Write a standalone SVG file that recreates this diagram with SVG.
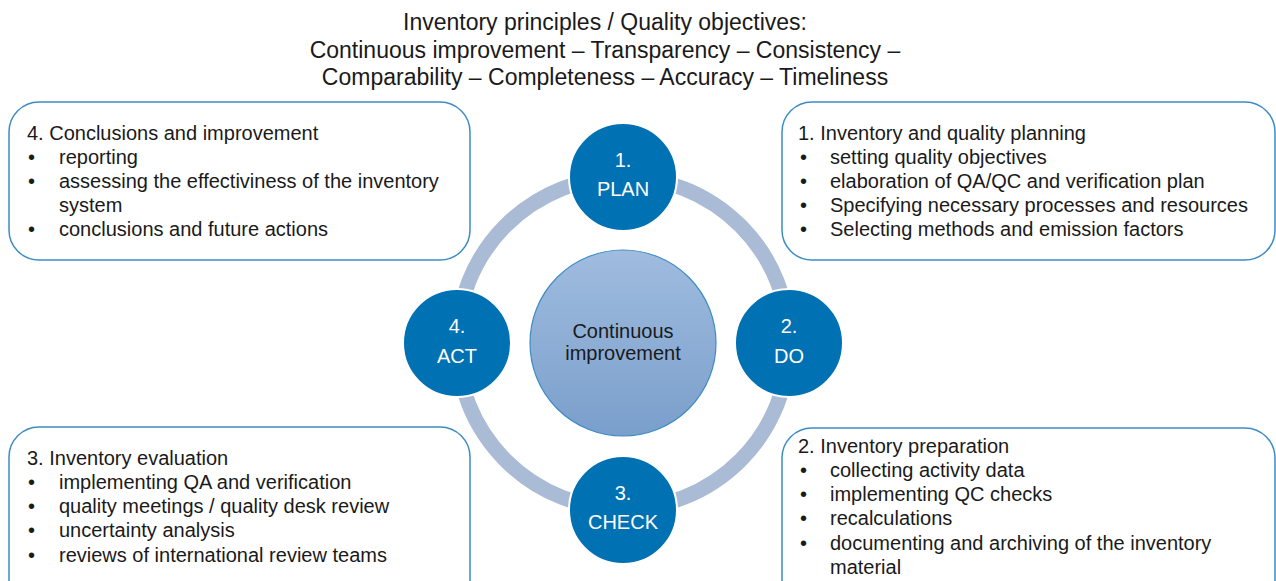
<svg xmlns="http://www.w3.org/2000/svg" width="1276" height="581" viewBox="0 0 1276 581">
<style>
text{font-family:"Liberation Sans",Arial,sans-serif;fill:#1a1a1a}
.t{font-size:23px;text-anchor:middle}
.b{font-size:20px}
.box{fill:#fff;stroke:#3d8cc4;stroke-width:1.5}
.node{fill:#0071b2;stroke:#fff;stroke-width:2}
.nl{font-size:20px;fill:#fff;text-anchor:middle}
.cl{font-size:20px;text-anchor:middle}
</style>
<defs>
<linearGradient id="g" x1="0" y1="0" x2="0" y2="1">
<stop offset="0" stop-color="#a0bcdf"/>
<stop offset="1" stop-color="#7a9fcb"/>
</linearGradient>
</defs>
<rect width="1276" height="581" fill="#fff"/>
<g id="title">
<text class="t" x="605" y="30">Inventory principles / Quality objectives:</text>
<text class="t" x="605" y="58">Continuous improvement – Transparency – Consistency –</text>
<text class="t" x="605" y="85">Comparability – Completeness – Accuracy – Timeliness</text>
</g>
<g id="connectors">
<circle cx="623" cy="343" r="166" fill="none" stroke="#a9bbd5" stroke-width="15"/>
</g>
<g id="box4">
<rect class="box" x="9" y="102" width="461" height="158" rx="30"/>
<text class="b" x="27" y="140">4. Conclusions and improvement</text>
<text class="b" x="28" y="164">•</text><text class="b" x="59" y="164">reporting</text>
<text class="b" x="28" y="188">•</text><text class="b" x="59" y="188">assessing the effectiviness of the inventory</text>
<text class="b" x="59" y="212">system</text>
<text class="b" x="28" y="236">•</text><text class="b" x="59" y="236">conclusions and future actions</text>
</g>
<g id="box1">
<rect class="box" x="782" y="102" width="493" height="158" rx="30"/>
<text class="b" x="798" y="140">1. Inventory and quality planning</text>
<text class="b" x="800" y="164">•</text><text class="b" x="830" y="164">setting quality objectives</text>
<text class="b" x="800" y="188">•</text><text class="b" x="830" y="188">elaboration of QA/QC and verification plan</text>
<text class="b" x="800" y="212">•</text><text class="b" x="830" y="212">Specifying necessary processes and resources</text>
<text class="b" x="800" y="236">•</text><text class="b" x="830" y="236">Selecting methods and emission factors</text>
</g>
<g id="box3">
<rect class="box" x="9" y="427" width="461" height="190" rx="30"/>
<text class="b" x="27" y="465">3. Inventory evaluation</text>
<text class="b" x="28" y="489">•</text><text class="b" x="59" y="489">implementing QA and verification</text>
<text class="b" x="28" y="513">•</text><text class="b" x="59" y="513">quality meetings / quality desk review</text>
<text class="b" x="28" y="537">•</text><text class="b" x="59" y="537">uncertainty analysis</text>
<text class="b" x="28" y="562">•</text><text class="b" x="59" y="562">reviews of international review teams</text>
</g>
<g id="box2">
<rect class="box" x="782" y="428" width="493" height="190" rx="30"/>
<text class="b" x="798" y="453">2. Inventory preparation</text>
<text class="b" x="800" y="477">•</text><text class="b" x="830" y="477">collecting activity data</text>
<text class="b" x="800" y="501">•</text><text class="b" x="830" y="501">implementing QC checks</text>
<text class="b" x="800" y="525">•</text><text class="b" x="830" y="525">recalculations</text>
<text class="b" x="800" y="550">•</text><text class="b" x="830" y="550">documenting and archiving of the inventory</text>
<text class="b" x="830" y="574">material</text>
</g>
<g id="center">
<circle cx="623" cy="343" r="93" fill="url(#g)" stroke="#3d8cc4" stroke-width="1.2"/>
<text class="cl" x="623" y="338">Continuous</text>
<text class="cl" x="623" y="360">improvement</text>
</g>
<g id="plan">
<circle class="node" cx="623" cy="177" r="54"/>
<text class="nl" x="623" y="167">1.</text>
<text class="nl" x="623" y="196">PLAN</text>
</g>
<g id="do">
<circle class="node" cx="789" cy="343" r="54"/>
<text class="nl" x="789" y="333">2.</text>
<text class="nl" x="789" y="363">DO</text>
</g>
<g id="check">
<circle class="node" cx="623" cy="510" r="54"/>
<text class="nl" x="623" y="500">3.</text>
<text class="nl" x="623" y="529">CHECK</text>
</g>
<g id="act">
<circle class="node" cx="457" cy="343" r="54"/>
<text class="nl" x="457" y="333">4.</text>
<text class="nl" x="457" y="363">ACT</text>
</g>
</svg>
